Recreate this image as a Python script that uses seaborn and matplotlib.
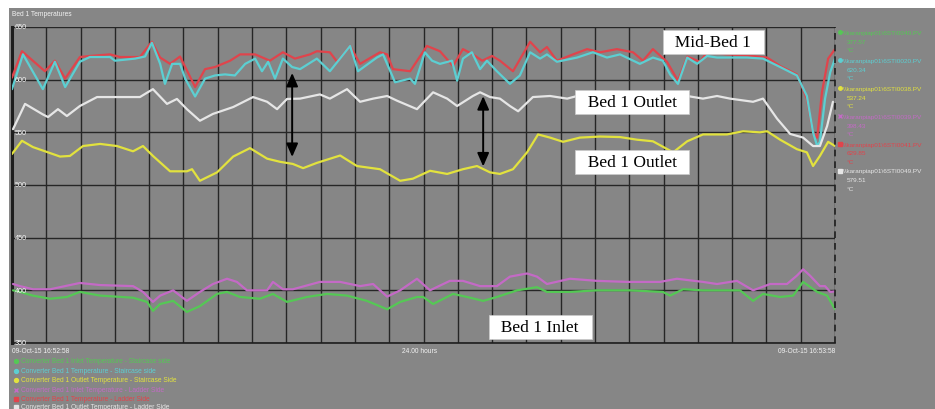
import numpy as np
import pandas as pd
import matplotlib
matplotlib.use("Agg")
import matplotlib.pyplot as plt
from matplotlib.lines import Line2D
from matplotlib.patches import Rectangle
import seaborn as sns

# ---------------- data (hours from start, temperature degC) ----------------
cyan_h = [0, 0.32, 0.90, 1.25, 1.55, 1.98, 2.27, 2.86, 3.00, 3.59, 3.88, 4.08, 4.32, 4.46, 4.67, 4.90, 5.05, 5.34,
          5.63, 5.92, 6.21, 6.50, 6.80, 7.09, 7.29, 7.47, 7.67, 7.90, 8.17, 8.40, 8.89, 9.27, 9.86, 10.09, 10.64,
          10.82, 11.17, 11.61, 11.75, 12.04, 12.25, 12.48, 12.83, 12.98, 13.15, 13.41, 13.65, 13.85, 14.14, 14.52,
          14.81, 15.11, 15.40, 15.60, 15.89, 16.48, 16.94, 17.35, 17.73, 18.31, 18.69, 18.98, 19.19, 19.42, 19.69,
          19.98, 20.27, 20.56, 20.94, 21.44, 21.90, 22.40, 22.89, 23.18, 23.36, 23.48, 23.56, 23.71, 23.86, 24.0]
cyan_v = [591, 624, 591, 617, 593, 617, 621.5, 621.5, 618, 620, 622, 635, 615, 596, 615, 615, 601, 584,
          601, 604, 605, 604, 615, 620, 608, 617, 601, 620, 612, 610, 620, 608, 632, 608, 621,
          624, 597.5, 601, 596, 626, 618, 615, 618, 599, 620, 626, 610, 618, 608, 596,
          604, 626, 620, 624, 617, 621, 626, 621, 624, 615, 621, 618, 605, 596, 621,
          615, 622.5, 621, 621, 621, 620, 612, 604, 584.5, 550, 537, 541, 582, 607, 620]

red_h = [0, 0.29, 0.96, 1.25, 1.55, 1.98, 2.27, 2.86, 3.15, 3.73, 4.08, 4.32, 4.61, 4.90, 5.34, 5.63, 5.92, 6.36,
         6.65, 7.09, 7.52, 7.90, 8.25, 8.69, 8.89, 9.27, 9.48, 9.86, 10.15, 10.73, 10.94, 11.11, 11.61, 12.10,
         12.48, 12.86, 13.15, 13.44, 13.71, 14.00, 14.23, 14.61, 15.11, 15.40, 15.60, 15.89, 16.36, 16.77, 17.15,
         17.64, 18.11, 18.40, 18.69, 19.10, 19.42, 19.69, 20.06, 20.27, 20.85, 21.44, 22.02, 22.40, 22.89, 23.18,
         23.36, 23.48, 23.62, 23.80, 24.0]
red_v = [602, 627, 608, 618, 601, 621.5, 622.5, 624, 621.5, 621.5, 636, 621, 615, 622, 593, 610, 612, 618,
         624, 624, 618, 626, 620, 624, 627, 626, 617, 632, 615, 626, 624, 610, 608, 632,
         627, 613, 629, 624, 618, 622.5, 618, 608, 636, 626, 631, 618, 624, 629, 626,
         629, 626, 618, 629, 617, 599, 622, 617, 626, 624, 623, 621, 613, 605, 582,
         550, 545, 588, 620, 629]

white_h = [0.03, 0.38, 0.90, 1.05, 1.34, 1.60, 1.98, 2.48, 3.06, 3.73, 4.11, 4.52, 4.81, 5.10, 5.48, 5.86, 6.45,
           7.03, 7.44, 7.73, 8.02, 8.40, 8.98, 9.27, 9.77, 10.15, 10.53, 10.94, 11.23, 11.81, 12.28, 12.69, 12.98,
           13.44, 13.65, 13.94, 14.23, 14.52, 14.76, 15.19, 15.69, 16.19, 16.65, 17.73, 18.31, 18.90, 19.69, 20.15,
           20.56, 20.94, 21.61, 21.90, 22.31, 22.69, 23.07, 23.36, 23.56, 23.77, 23.94]
white_v = [553, 577, 567, 564.5, 572, 565.5, 575, 583.5, 583.5, 583.5, 591, 577, 581.7, 572, 561, 567.5, 574,
           583.5, 579, 572, 581.7, 582, 586, 582, 591, 579, 582, 584.5, 580, 572, 588, 582, 575,
           584.5, 588, 583.5, 582, 575, 570, 583.5, 584.5, 582, 586, 588, 586, 588, 584.5, 582,
           584.5, 582, 579, 582, 563, 548.5, 545, 537, 537, 556, 579]

yellow_h = [0, 0.29, 0.61, 1.05, 1.40, 1.69, 2.07, 2.57, 3.06, 3.53, 3.82, 4.11, 4.61, 5.10, 5.25, 5.48, 5.98,
            6.45, 6.94, 7.44, 7.82, 8.19, 8.49, 8.89, 9.57, 10.06, 10.73, 11.32, 11.69, 12.19, 12.69, 13.15, 13.56,
            13.94, 14.23, 14.61, 15.02, 15.34, 15.69, 16.07, 16.56, 17.15, 17.73, 18.23, 18.69, 19.28, 19.69,
            20.15, 20.85, 21.32, 21.81, 22.02, 22.40, 22.89, 23.18, 23.36, 23.56, 23.80, 24.0]
yellow_v = [529.5, 542, 536, 531, 527, 527.6, 537, 539, 537, 532, 537, 527.6, 513, 513, 515, 504, 512,
            527, 535, 525, 522, 520, 516, 521, 528, 518, 515, 504, 506, 513.5, 510.5, 515, 518,
            512, 510.5, 515, 531, 548, 545, 541, 545, 546, 545.5, 543, 541.5, 531, 541.5,
            548, 548, 551, 550, 551, 543, 534, 531, 518, 527.6, 541, 537]

magenta_h = [0.03, 0.23, 0.61, 1.11, 1.98, 2.57, 3.53, 3.82, 4.11, 4.32, 4.70, 5.10, 5.48, 5.86, 6.27, 6.56, 6.85,
             7.44, 7.61, 7.90, 8.19, 8.98, 9.57, 10.15, 10.53, 10.94, 11.32, 11.81, 12.19, 12.77, 13.15, 13.65,
             14.14, 14.52, 15.02, 15.31, 15.60, 16.27, 17.06, 17.94, 18.90, 19.39, 20.15, 20.56, 21.14, 21.61,
             22.11, 22.60, 22.89, 23.07, 23.27, 23.56, 23.71, 23.86, 24.0]
magenta_v = [406, 404, 401, 401, 407, 405, 404, 398.5, 389, 395, 400, 390, 398.5, 406, 411, 408, 400,
             400, 408, 401, 401, 408, 408, 404, 406, 394, 400, 411, 400, 409, 409, 404,
             404, 413, 416, 413, 406, 411, 409, 408, 408, 411, 408, 406, 409, 400,
             406, 406, 414, 420, 414, 404, 404, 398.5, 399]

green_h = [0.03, 0.23, 0.61, 1.11, 1.60, 1.98, 2.57, 3.53, 3.94, 4.11, 4.32, 4.70, 5.10, 5.48, 5.98, 6.27, 6.65,
           7.23, 7.61, 8.02, 8.60, 9.19, 9.77, 10.35, 10.94, 11.32, 11.81, 11.99, 12.28, 12.86, 13.27, 13.74,
           14.14, 14.73, 15.31, 15.60, 16.27, 17.06, 18.02, 18.98, 19.19, 19.57, 20.15, 21.23, 21.61, 21.90,
           22.40, 22.78, 23.07, 23.48, 23.77, 24.0]
green_v = [400, 398.5, 395, 392, 393.7, 398.5, 395, 393, 389, 380.5, 387, 390, 379.5, 385, 396.6, 398.5, 393.7,
           392, 396.6, 389, 393.7, 396.6, 395, 390, 382, 389, 393.7, 393.7, 387, 396.6, 393.7, 390,
           393.7, 400, 403, 398.5, 398.5, 400, 400, 398.5, 395, 401, 400, 400, 390, 396.6,
           393.7, 395, 408, 398.5, 395, 382]

y_ticks = [650, 600, 550, 500, 450, 400, 350]

legend_labels = [
    "Converter Bed 1 Inlet Temperature - Staircase side",
    "Converter Bed 1 Temperature - Staircase side",
    "Converter Bed 1 Outlet Temperature - Staircase Side",
    "Converter Bed 1 Inlet Temperature - Ladder Side",
    "Converter Bed 1 Temperature - Ladder Side",
    "Converter Bed 1 Outlet Temperature - Ladder Side",
]
tag_names = [
    "\\\\karanpiap01\\6STI0040.PV",
    "\\\\karanpiap01\\6STI0020.PV",
    "\\\\karanpiap01\\6STI0038.PV",
    "\\\\karanpiap01\\6STI0039.PV",
    "\\\\karanpiap01\\6STI0041.PV",
    "\\\\karanpiap01\\6STI0049.PV",
]
tag_values = ["377.57", "620.34", "537.24", "398.43", "629.85", "579.51"]

# ---------------- styling ----------------
GREY = "#868686"
colors = {
    "green": "#55c855",
    "cyan": "#5ccfd2",
    "yellow": "#e2e23e",
    "magenta": "#c46ac6",
    "red": "#e0444c",
    "white": "#e6e6e6",
}
legend_order = ["green", "cyan", "yellow", "magenta", "red", "white"]
markers = ["o", "o", "o", "x", "s", "s"]

frames = []
for name, h, v in [("red", red_h, red_v), ("cyan", cyan_h, cyan_v), ("white", white_h, white_v),
                   ("yellow", yellow_h, yellow_v), ("magenta", magenta_h, magenta_v),
                   ("green", green_h, green_v)]:
    frames.append(pd.DataFrame({"hours": h, "temp": v, "series": name}))
df = pd.concat(frames, ignore_index=True)

sns.set_style("white")
plt.rcParams["font.family"] = ["Liberation Sans", "DejaVu Sans"]

fig = plt.figure(figsize=(9.35, 4.10), dpi=100, facecolor="white")
W, H = 935.0, 410.0
bg = Rectangle((9 / W, 0), 1 - 9 / W, 1 - 9 / H, transform=fig.transFigure,
               facecolor=GREY, edgecolor="none", zorder=-10)
fig.patches.append(bg)

left, right, top, bottom = 12 / W, 835 / W, 1 - 28 / H, 1 - 344 / H
ax = fig.add_axes([left, bottom, right - left, top - bottom])
ax.set_zorder(1)
ax.set_facecolor(GREY)

sns.lineplot(data=df, x="hours", y="temp", hue="series", palette=colors, estimator=None,
             sort=False, linewidth=1.6, legend=False, ax=ax, zorder=3)

ax.set_xlim(0, 24)
ax.set_ylim(350, 650)
ax.set_xticks(np.arange(0, 25, 1))
ax.set_yticks(y_ticks)
ax.grid(True, color="#262626", linewidth=1.0, zorder=1)
ax.set_axisbelow(True)
ax.tick_params(left=False, bottom=False, labelleft=False, labelbottom=False)
ax.set_xlabel("")
ax.set_ylabel("")
for s in ["top", "right"]:
    ax.spines[s].set_visible(False)
ax.spines["left"].set_color("#1e1e1e")
ax.spines["left"].set_linewidth(2.2)
ax.spines["bottom"].set_color("#1e1e1e")
ax.spines["bottom"].set_linewidth(1.2)
ax.axvline(24, color="#1e1e1e", linestyle=(0, (4, 3)), linewidth=1.2, zorder=4, clip_on=False)

for t in y_ticks:
    ax.text(0.08, t, str(t), color="#f5f5f5", fontsize=5.2, va="center", ha="left", zorder=5)

# figure texts
fig.text(12 / W, 1 - 14 / H, "Bed 1 Temperatures", color="#f2f2f2", fontsize=4.8, va="center", ha="left")
fig.text(12 / W, 1 - 352 / H, "09-Oct-15 16:52:58", color="#f2f2f2", fontsize=4.8, va="center", ha="left")
fig.text(420 / W, 1 - 352 / H, "24.00 hours", color="#f2f2f2", fontsize=4.8, va="center", ha="center")
fig.text(835 / W, 1 - 352 / H, "09-Oct-15 16:53:58", color="#f2f2f2", fontsize=4.8, va="center", ha="right")

# bottom legend
rows_y = [362, 371.5, 381, 390.5, 400, 408.0]
for key, mk, lab, yy in zip(legend_order, markers, legend_labels, rows_y):
    fig.add_artist(Line2D([16 / W], [1 - yy / H], transform=fig.transFigure, marker=mk, markersize=2.8,
                          color=colors[key], linestyle="none"))
    fig.text(21 / W, 1 - yy / H, lab, color=colors[key], fontsize=4.8, va="center", ha="left")

# right-side tag panel
tag_y0 = [33, 61, 89, 117, 145, 172]
for key, mk, nm, val, yy in zip(legend_order, markers, tag_names, tag_values, tag_y0):
    fig.add_artist(Line2D([840 / W], [1 - yy / H], transform=fig.transFigure, marker=mk, markersize=2.5,
                          color=colors[key], linestyle="none"))
    fig.text(843 / W, 1 - yy / H, nm, color=colors[key], fontsize=4.6, va="center", ha="left")
    fig.text(847 / W, 1 - (yy + 9) / H, val, color=colors[key], fontsize=4.6, va="center", ha="left")
    fig.text(847 / W, 1 - (yy + 18) / H, "°C", color=colors[key], fontsize=4.6, va="center", ha="left")

# annotation boxes
box_kw = dict(boxstyle="square,pad=0.22", facecolor="white", edgecolor="#cccccc", linewidth=0.5)
serif = ["Liberation Serif", "DejaVu Serif"]
for txt, hx, ty in [("Mid-Bed 1", 20.45, 636), ("Bed 1 Outlet", 18.08, 579), ("Bed 1 Outlet", 18.08, 522),
                    ("Bed 1 Inlet", 15.40, 365)]:
    ax.text(hx, ty, "  " + txt + "  ", fontsize=12.5, family=serif, color="black", ha="center", va="center",
            bbox=box_kw, zorder=6)

# double arrows
for hx, y1, y2 in [(8.17, 609, 524), (13.74, 587, 515)]:
    ax.annotate("", xy=(hx, y1), xytext=(hx, y2),
                arrowprops=dict(arrowstyle="<|-|>,head_length=0.8,head_width=0.35", color="black", lw=1.4),
                zorder=7)

fig.savefig("out.png", dpi=100, facecolor="white")
